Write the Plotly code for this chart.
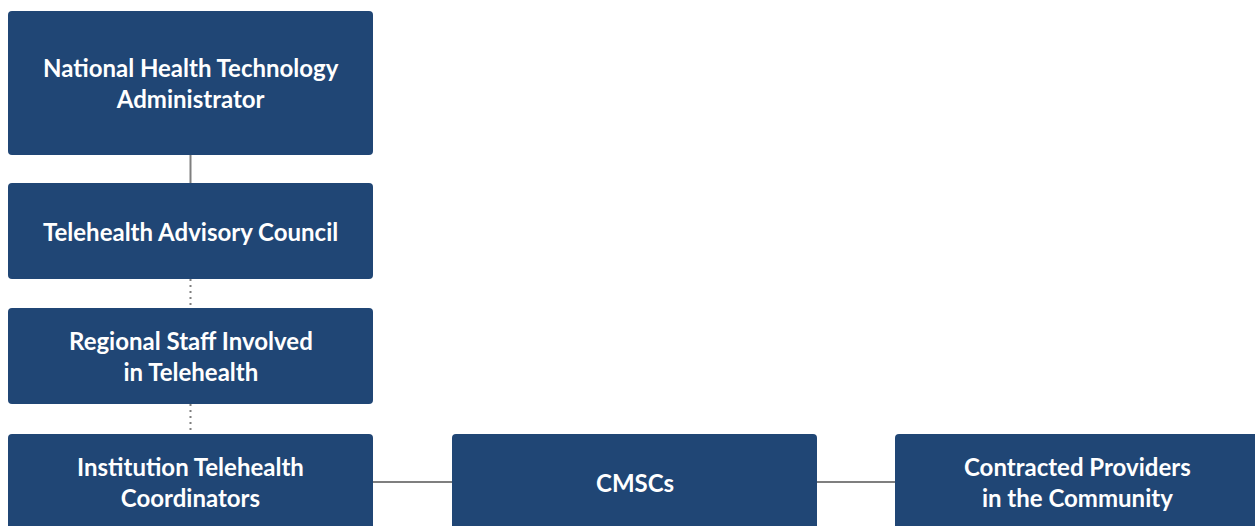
import plotly.graph_objects as go

# nós do organograma: texto, linha, coluna
labels = [
    "National Health Technology<br>Administrator",
    "Telehealth Advisory Council",
    "Regional Staff Involved<br>in Telehealth",
    "Institution Telehealth<br>Coordinators",
    "CMSCs",
    "Contracted Providers<br>in the Community",
]
rows = [0, 1, 2, 3, 3, 3]
cols = [0, 0, 0, 0, 1, 2]

# ligações: origem, destino, tipo
edge_from = [0, 1, 2, 3, 4]
edge_to = [1, 2, 3, 4, 5]
edge_kind = ["solid", "dotted", "dotted", "solid", "solid"]

# layout em pixels
W, H = 1255, 526
row_top = [11, 183, 308, 434]
row_h = [144, 96, 96, 96]
col_left = [8, 452, 895]
box_w = 365
BOX_COLOR = "#204675"
LINE_COLOR = "#7f7f7f"


def rounded_rect(x0, y0, x1, y1, r=4):
    return (f"M {x0+r},{y0} L {x1-r},{y0} Q {x1},{y0} {x1},{y0+r} "
            f"L {x1},{y1-r} Q {x1},{y1} {x1-r},{y1} L {x0+r},{y1} "
            f"Q {x0},{y1} {x0},{y1-r} L {x0},{y0+r} Q {x0},{y0} {x0+r},{y0} Z")


def box(i):
    x0 = col_left[cols[i]]
    y0 = row_top[rows[i]]
    return x0, y0, x0 + box_w, y0 + row_h[rows[i]]


fig = go.Figure()
shapes = []
annotations = []

# ligações primeiro, ficam por baixo
for a, b, kind in zip(edge_from, edge_to, edge_kind):
    ax0, ay0, ax1, ay1 = box(a)
    bx0, by0, bx1, by1 = box(b)
    dash = "solid" if kind == "solid" else "2px,4px"
    if rows[a] == rows[b]:
        y = (ay0 + ay1) / 2
        shapes.append(dict(type="line", x0=ax1, x1=bx0, y0=y, y1=y,
                           line=dict(color=LINE_COLOR, width=2, dash=dash), layer="below"))
    else:
        x = (ax0 + ax1) / 2
        shapes.append(dict(type="line", x0=x, x1=x, y0=ay1, y1=by0,
                           line=dict(color=LINE_COLOR, width=2, dash=dash), layer="below"))

for i, txt in enumerate(labels):
    x0, y0, x1, y1 = box(i)
    shapes.append(dict(type="path", path=rounded_rect(x0, y0, x1, y1),
                       fillcolor=BOX_COLOR, line=dict(width=0)))
    annotations.append(dict(x=(x0 + x1) / 2, y=(y0 + y1) / 2, text=f"<b>{txt}</b>",
                            showarrow=False, xanchor="center", yanchor="middle",
                            font=dict(family="Lato", size=24, color="white")))

fig.update_layout(
    width=W, height=H,
    margin=dict(l=0, r=0, t=0, b=0),
    paper_bgcolor="white", plot_bgcolor="white",
    xaxis=dict(range=[0, W], visible=False, fixedrange=True),
    yaxis=dict(range=[H, 0], visible=False, fixedrange=True),
    shapes=shapes, annotations=annotations,
    showlegend=False,
)

# tira a margem padrão do body para o gráfico ocupar a janela toda
fig.write_html("out.html", config={"displayModeBar": False},
               post_script="document.body.style.margin='0';document.body.style.overflow='hidden';")
